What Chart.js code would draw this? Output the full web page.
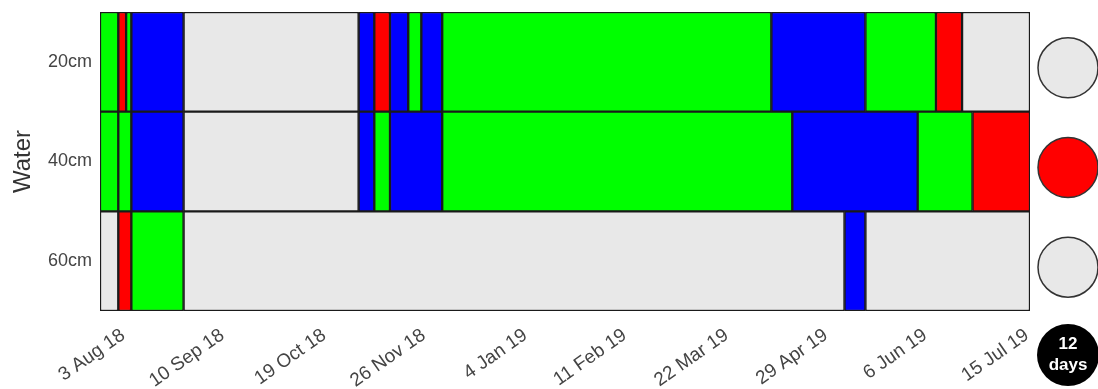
<!DOCTYPE html>
<html>
<head>
<meta charset="utf-8">
<script src="https://cdn.jsdelivr.net/npm/chart.js@4"></script>
<style>
  html, body { margin: 0; padding: 0; background: #fff; }
  #wrap { position: relative; width: 1098px; height: 389px; }
</style>
</head>
<body>
<div id="wrap"><canvas id="chart"></canvas></div>
<script>
const rows = ["20cm", "40cm", "60cm"]
const dateMin = "2018-07-24"
const dateMax = "2019-07-15"
const tickDates = ["2018-08-03", "2018-09-10", "2018-10-19", "2018-11-26", "2019-01-04",
  "2019-02-11", "2019-03-22", "2019-04-29", "2019-06-06", "2019-07-15"]

// segment boundaries and the state between each pair of boundaries
const bounds20 = ["2018-07-24", "2018-07-31", "2018-08-03", "2018-08-05", "2018-08-25", "2018-10-31",
  "2018-11-06", "2018-11-12", "2018-11-19", "2018-11-24", "2018-12-02", "2019-04-07", "2019-05-13",
  "2019-06-09", "2019-06-19", "2019-07-15"]
const states20 = ["ok", "dry", "ok", "wet", "none", "wet", "dry", "wet", "ok", "wet", "ok", "wet", "ok", "dry", "none"]

const bounds40 = ["2018-07-24", "2018-07-31", "2018-08-05", "2018-08-25", "2018-10-31", "2018-11-06",
  "2018-11-12", "2018-12-02", "2019-04-15", "2019-06-02", "2019-06-23", "2019-07-15"]
const states40 = ["ok", "ok", "wet", "none", "wet", "ok", "wet", "ok", "wet", "ok", "dry"]

const bounds60 = ["2018-07-24", "2018-07-31", "2018-08-05", "2018-08-25", "2019-05-05", "2019-05-13", "2019-07-15"]
const states60 = ["none", "dry", "ok", "none", "wet", "none"]

const daysLeft = 12

const stateColors = { ok: "#00ff00", wet: "#0000ff", dry: "#ff0000", none: "#e8e8e8" }
const months = ["Jan", "Feb", "Mar", "Apr", "May", "Jun", "Jul", "Aug", "Sep", "Oct", "Nov", "Dec"]
const FONT = "Arial, 'Liberation Sans', sans-serif"

const toMs = s => Date.parse(s)
const fmtDate = ms => {
  const d = new Date(ms)
  return d.getUTCDate() + " " + months[d.getUTCMonth()] + " " + String(d.getUTCFullYear()).slice(2)
}

const boundsByRow = [bounds20, bounds40, bounds60]
const statesByRow = [states20, states40, states60]

const datasets = rows.map((row, r) => {
  const b = boundsByRow[r]
  const s = statesByRow[r]
  return {
    label: row,
    data: s.map((_, i) => ({ x: [toMs(b[i]), toMs(b[i + 1])], y: row })),
    backgroundColor: s.map(k => stateColors[k]),
    borderColor: "#1a1a1a",
    borderWidth: 1.5,
    borderSkipped: false,
    barPercentage: 1,
    categoryPercentage: 1,
    grouped: false
  }
})

const statusPlugin = {
  id: "status",
  afterDraw(chart) {
    const { ctx, chartArea, scales } = chart
    const cx = chartArea.right + 38
    ctx.save()
    rows.forEach((row, r) => {
      const s = statesByRow[r]
      const y = scales.y.getPixelForValue(r) + 6
      ctx.beginPath()
      ctx.arc(cx, y, 30, 0, Math.PI * 2)
      ctx.fillStyle = stateColors[s[s.length - 1]]
      ctx.fill()
      ctx.lineWidth = 1.5
      ctx.strokeStyle = "#333"
      ctx.stroke()
    })
    const by = chartArea.bottom + 44
    ctx.beginPath()
    ctx.arc(cx, by, 31, 0, Math.PI * 2)
    ctx.fillStyle = "#000"
    ctx.fill()
    ctx.fillStyle = "#fff"
    ctx.font = "bold 17px " + FONT
    ctx.textAlign = "center"
    ctx.textBaseline = "middle"
    ctx.fillText(String(daysLeft), cx, by - 11)
    ctx.fillText("days", cx, by + 10)
    ctx.restore()
  }
}

Chart.defaults.font.family = FONT

new Chart(document.getElementById("chart"), {
  type: "bar",
  data: { labels: rows, datasets },
  plugins: [statusPlugin],
  options: {
    indexAxis: "y",
    responsive: true,
    maintainAspectRatio: false,
    animation: false,
    events: [],
    layout: { autoPadding: false, padding: { top: 12, right: 68, left: 0, bottom: 0 } },
    plugins: { legend: { display: false }, tooltip: { enabled: false } },
    scales: {
      x: {
        type: "linear",
        min: toMs(dateMin),
        max: toMs(dateMax),
        grid: { display: false },
        border: { display: false },
        afterBuildTicks: axis => { axis.ticks = tickDates.map(d => ({ value: toMs(d) })) },
        afterFit: axis => {
          axis.height = 78
          axis.paddingLeft = 0
          axis.paddingRight = 0
        },
        ticks: {
          autoSkip: false,
          minRotation: 35,
          maxRotation: 35,
          padding: 5,
          labelOffset: -3,
          color: "#444",
          font: { size: 19 },
          callback: v => fmtDate(v)
        }
      },
      y: {
        type: "category",
        labels: rows,
        offset: true,
        grid: { display: false, drawTicks: false },
        border: { display: false },
        afterFit: axis => {
          axis.width = 100
          axis.paddingTop = 0
          axis.paddingBottom = 0
        },
        ticks: { padding: 8, color: "#444", font: { size: 18 } },
        title: { display: true, text: "Water", color: "#333", font: { size: 24 }, padding: { top: 9, bottom: 0 } }
      }
    }
  }
})
</script>
</body>
</html>
